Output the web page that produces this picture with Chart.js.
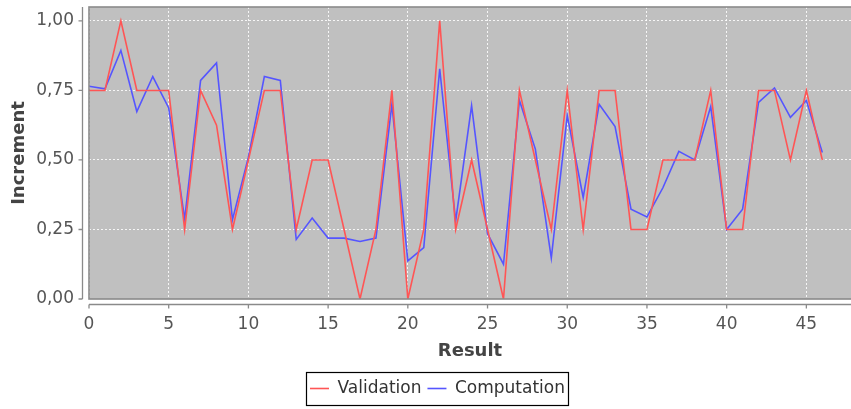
<!DOCTYPE html>
<html>
<head>
<meta charset="utf-8">
<script src="https://cdn.jsdelivr.net/npm/chart.js@4.4.0/dist/chart.umd.min.js"></script>
<style>
  html, body { margin: 0; padding: 0; background: #ffffff; }
  #wrap { width: 851px; height: 409px; position: relative; }
</style>
</head>
<body>
<div id="wrap"><canvas id="c" width="851" height="409"></canvas></div>
<script>
const results = [0,1,2,3,4,5,6,7,8,9,10,11,12,13,14,15,16,17,18,19,20,21,22,23,24,25,26,27,28,29,30,31,32,33,34,35,36,37,38,39,40,41,42,43,44,45,46];
const validation = [0.75,0.75,1.0,0.75,0.75,0.75,0.25,0.75,0.625,0.25,0.5,0.75,0.75,0.25,0.5,0.5,0.25,0.0,0.25,0.75,0.0,0.25,1.0,0.25,0.5,0.25,0.0,0.75,0.5,0.25,0.75,0.25,0.75,0.75,0.25,0.25,0.5,0.5,0.5,0.75,0.25,0.25,0.75,0.75,0.5,0.75,0.5];
const computation = [0.765,0.756,0.894,0.674,0.80,0.687,0.287,0.786,0.849,0.285,0.51,0.80,0.786,0.214,0.291,0.219,0.219,0.207,0.219,0.70,0.137,0.185,0.828,0.28,0.695,0.235,0.125,0.714,0.539,0.147,0.66,0.365,0.70,0.62,0.323,0.295,0.40,0.531,0.50,0.692,0.25,0.323,0.707,0.759,0.653,0.714,0.527];
const seriesNames = ['Validation', 'Computation'];
const xTickStep = 5;
const yTickStep = 0.25;
const xMin = 0, xMax = 47.8;
const yMin = 0, yMax = 1.05;

const FONT = 'DejaVu Sans';

const toPoints = (vals) => vals.map((v, i) => ({ x: results[i], y: v }));

const plotDecor = {
  id: 'plotDecor',
  beforeDraw(chart) {
    const { ctx, chartArea: a } = chart;
    ctx.save();
    ctx.fillStyle = '#c0c0c0';
    ctx.fillRect(a.left, a.top, a.right - a.left, a.bottom - a.top);
    ctx.restore();
  },
  afterDraw(chart) {
    const { ctx, chartArea: a, scales } = chart;
    const xs = scales.x, ys = scales.y;
    ctx.save();
    ctx.strokeStyle = '#8a8a8a';
    ctx.lineWidth = 1.6;
    ctx.strokeRect(a.left, a.top, a.right - a.left + 2, a.bottom - a.top);
    ctx.lineWidth = 1.3;
    ctx.beginPath();
    const ax = a.left - 6.5;
    ctx.moveTo(ax, a.top);
    ctx.lineTo(ax, a.bottom);
    ys.ticks.forEach(t => {
      const py = ys.getPixelForValue(t.value);
      ctx.moveTo(ax - 4, py);
      ctx.lineTo(ax, py);
    });
    const ay = a.bottom + 5.5;
    ctx.moveTo(a.left, ay);
    ctx.lineTo(a.right, ay);
    xs.ticks.forEach(t => {
      const px = xs.getPixelForValue(t.value);
      ctx.moveTo(px, ay);
      ctx.lineTo(px, ay + 4);
    });
    ctx.stroke();
    const lg = chart.legend;
    if (lg && lg.legendHitBoxes && lg.legendHitBoxes.length) {
      const hb = lg.legendHitBoxes;
      const first = hb[0], last = hb[hb.length - 1];
      const l = first.left - 4, r = last.left + last.width + 3;
      const cy = first.top + first.height / 2;
      ctx.strokeStyle = '#000';
      ctx.lineWidth = 1.2;
      ctx.strokeRect(Math.round(l) + 0.5, Math.round(cy - 17) + 0.5, Math.round(r - l), 33);
    }
    ctx.restore();
  }
};

new Chart(document.getElementById('c'), {
  type: 'line',
  data: {
    datasets: [
      {
        label: seriesNames[0],
        data: toPoints(validation),
        borderColor: '#ff5555',
        backgroundColor: '#ff5555',
        borderWidth: 1.6,
        pointRadius: 0,
        tension: 0,
        fill: false
      },
      {
        label: seriesNames[1],
        data: toPoints(computation),
        borderColor: '#5555ff',
        backgroundColor: '#5555ff',
        borderWidth: 1.6,
        pointRadius: 0,
        tension: 0,
        fill: false
      }
    ]
  },
  options: {
    responsive: false,
    animation: false,
    devicePixelRatio: 1,
    layout: { padding: { top: 7, left: 24, right: 0, bottom: 2 } },
    plugins: {
      tooltip: { enabled: false },
      legend: {
        position: 'bottom',
        labels: {
          usePointStyle: true,
          pointStyle: 'line',
          pointStyleWidth: 19,
          padding: 6,
          color: '#333333',
          font: { family: FONT, size: 17 }
        }
      }
    },
    scales: {
      x: {
        type: 'linear',
        min: xMin,
        max: xMax,
        afterFit(scale) { scale.height = 75; scale.paddingLeft = 0; scale.paddingRight = 0; },
        ticks: {
          stepSize: xTickStep,
          includeBounds: false,
          padding: 15,
          maxRotation: 0,
          color: '#555555',
          font: { family: FONT, size: 17 },
          callback: (v) => String(v)
        },
        grid: { color: 'rgba(255,255,255,0.85)', lineWidth: 1, drawTicks: false },
        border: { display: false, dash: [2, 2] },
        title: {
          display: true,
          text: 'Result',
          color: '#444444',
          font: { family: FONT, size: 18, weight: 'bold' },
          padding: { top: 0, bottom: 12 }
        }
      },
      y: {
        min: yMin,
        max: yMax,
        afterFit(scale) { scale.width = 65; scale.paddingTop = 0; scale.paddingBottom = 0; },
        ticks: {
          stepSize: yTickStep,
          includeBounds: false,
          padding: 15,
          color: '#555555',
          font: { family: FONT, size: 17 },
          callback: (v) => Number(v).toFixed(2).replace('.', ',')
        },
        grid: { color: 'rgba(255,255,255,0.85)', lineWidth: 1, drawTicks: false },
        border: { display: false, dash: [2, 2] },
        title: {
          display: true,
          text: 'Increment',
          color: '#444444',
          font: { family: FONT, size: 18, weight: 'bold' },
          padding: { top: -15, bottom: 0 }
        }
      }
    }
  },
  plugins: [plotDecor]
});
</script>
</body>
</html>
